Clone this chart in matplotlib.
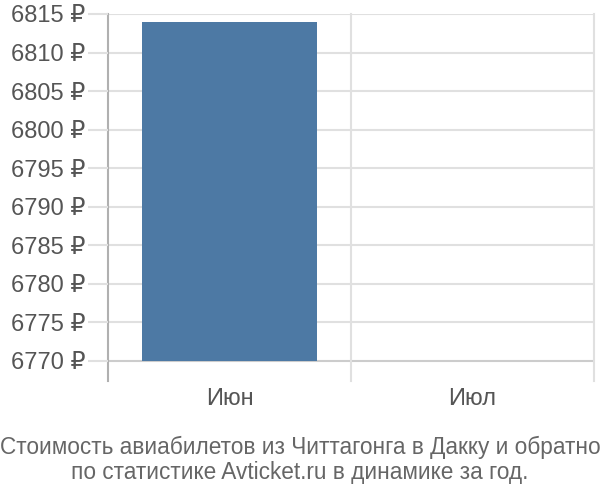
import matplotlib
matplotlib.use('Agg')
import matplotlib.pyplot as plt

# Chart data
months = ['Июн', 'Июл']
prices = [6814, None]
y_ticks = [6770, 6775, 6780, 6785, 6790, 6795, 6800, 6805, 6810, 6815]

plt.rcParams['font.family'] = ['Liberation Sans', 'DejaVu Sans']

fig = plt.figure(figsize=(6, 5), dpi=100)
ax = fig.add_axes([0.18, 0.238, 0.81, 0.734])

# bars start at the lowest tick, not at zero
base = y_ticks[0]
xs = [i for i, v in enumerate(prices) if v is not None]
hs = [v - base for v in prices if v is not None]
ax.bar(xs, hs, bottom=base, width=0.72, color='#4d79a4', zorder=3)

ax.set_xlim(-0.5, len(months) - 0.5)
ax.set_ylim(6767.4, 6815)

# horizontal grid lines
for t in y_ticks:
    c = '#cccccc' if t == base else '#e0e0e0'
    ax.axhline(t, color=c, lw=1.5, zorder=1)
# vertical separators
for i in range(len(months) + 1):
    c = '#b0b0b0' if i == 0 else '#e0e0e0'
    ax.axvline(i - 0.5, color=c, lw=1.5, zorder=1, clip_on=False)

ax.set_yticks(y_ticks)
ax.set_yticklabels([f'{t} ₽' for t in y_ticks])
ax.tick_params(axis='y', length=14.4, width=1.5, color='#e0e0e0', pad=2,
               labelsize=17, labelcolor='#555555')
ax.set_xticks(range(len(months)))
ax.set_xticklabels(months)
ax.tick_params(axis='x', length=0, pad=5, labelsize=17, labelcolor='#555555')

for s in ax.spines.values():
    s.set_visible(False)

fig.text(0.5, 0.08, 'Стоимость авиабилетов из Читтагонга в Дакку и обратно\n'
         'по статистике Avticket.ru в динамике за год.',
         ha='center', va='center', fontsize=16.3, color='#666666', linespacing=1.12)

fig.savefig('out.png', dpi=100)
plt.close(fig)
